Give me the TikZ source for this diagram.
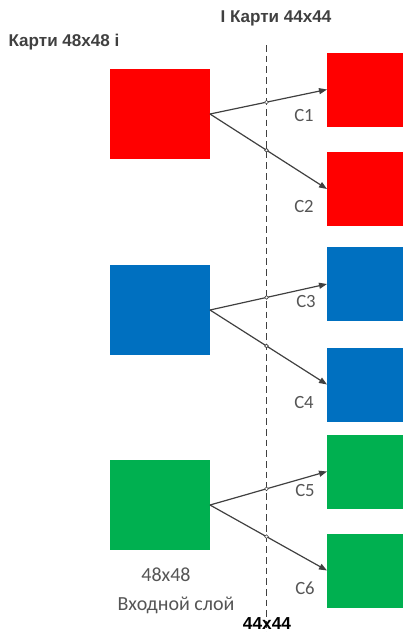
\documentclass[tikz,border=0pt]{standalone}
\usepackage{fontspec}
\setmainfont{Carlito}
\newfontfamily\headfont{Liberation Sans}
\usetikzlibrary{arrows.meta}

\definecolor{mapred}{RGB}{255,0,0}
\definecolor{mapblue}{RGB}{0,112,192}
\definecolor{mapgreen}{RGB}{0,176,80}
\definecolor{linegray}{RGB}{64,64,64}
\definecolor{textgray}{RGB}{85,85,85}

\tikzset{every picture/.style={line width=0.75pt}}
\tikzset{
	inmap/.style={minimum width=75pt, minimum height=67.5pt, inner sep=0pt, outer sep=0pt},
	outmap/.style={minimum width=75pt, minimum height=55.5pt, inner sep=0pt, outer sep=0pt},
	conv/.style={draw=linegray, line width=0.9pt, -{Triangle[length=6pt,width=4.5pt]}},
	jump/.style={circle, draw=linegray, fill=white, line width=0.45pt, inner sep=0pt, minimum size=2.8pt},
	klabel/.style={font=\fontsize{14}{16}\selectfont, text=textgray},
	headlabel/.style={font=\headfont\bfseries\fontsize{12.8}{14}\selectfont, text=linegray}
}

\begin{document}
\begin{tikzpicture}[x=0.75pt,y=0.75pt,yscale=-1,xscale=1]
	\useasboundingbox (0,0) rectangle (403,632);

	%Dashed divider
	\coordinate (top) at (266.5,45);
	\coordinate (bottom) at (266.5,632);
	\draw [linegray, line width=0.8pt, dash pattern={on 5pt off 3pt}] (top) -- (bottom);

	%Input maps 48x48
	\node [inmap, fill=mapred] (in1) at (160,114) {};
	\node [inmap, fill=mapblue] (in2) at (160,310) {};
	\node [inmap, fill=mapgreen] (in3) at (160,505) {};

	%Output maps 44x44
	\node [outmap, fill=mapred] (c1) at (377,89.5) {};
	\node [outmap, fill=mapred] (c2) at (377,189) {};
	\node [outmap, fill=mapblue] (c3) at (377,284) {};
	\node [outmap, fill=mapblue] (c4) at (377,384.5) {};
	\node [outmap, fill=mapgreen] (c5) at (377,471.5) {};
	\node [outmap, fill=mapgreen] (c6) at (377,570.5) {};

	%Convolution arrows
	\draw [conv] (in1.east) -- node [jump, pos=0.483] (j1) {} (c1.west);
	\draw [conv] (in1.east) -- node [jump, pos=0.483] (j2) {} (c2.west);
	\draw [conv] (in2.east) -- node [jump, pos=0.483] (j3) {} (c3.west);
	\draw [conv] (in2.east) -- node [jump, pos=0.483] (j4) {} (c4.west);
	\draw [conv] (in3.east) -- node [jump, pos=0.483] (j5) {} (c5.west);
	\draw [conv] (in3.east) -- node [jump, pos=0.483] (j6) {} (c6.west);

	% Text Node
	\node [klabel] (k1) at (304,116) {C1};
	\node [klabel] (k2) at (304,207) {C2};
	\node [klabel] (k3) at (306,302) {C3};
	\node [klabel] (k4) at (304,403) {C4};
	\node [klabel] (k5) at (305,490) {C5};
	\node [klabel] (k6) at (305,588) {C6};
	% Text Node
	\node [klabel, font=\fontsize{15}{17}\selectfont] (size) at (166,575) {48x48};
	\node [klabel, font=\fontsize{15}{17}\selectfont] (layer) at (176,605) {Входной слой};
	% Text Node
	\node [headlabel] (inhead) at (64,42) {Карти 48x48 і};
	\node [headlabel] (outhead) at (276,18) {І Карти 44x44};
	\node [headlabel, text=black, inner sep=1pt, font=\headfont\bfseries\fontsize{13}{15}\selectfont] (outsize) at (267,623.5) {44x44};

\end{tikzpicture}
\end{document}
